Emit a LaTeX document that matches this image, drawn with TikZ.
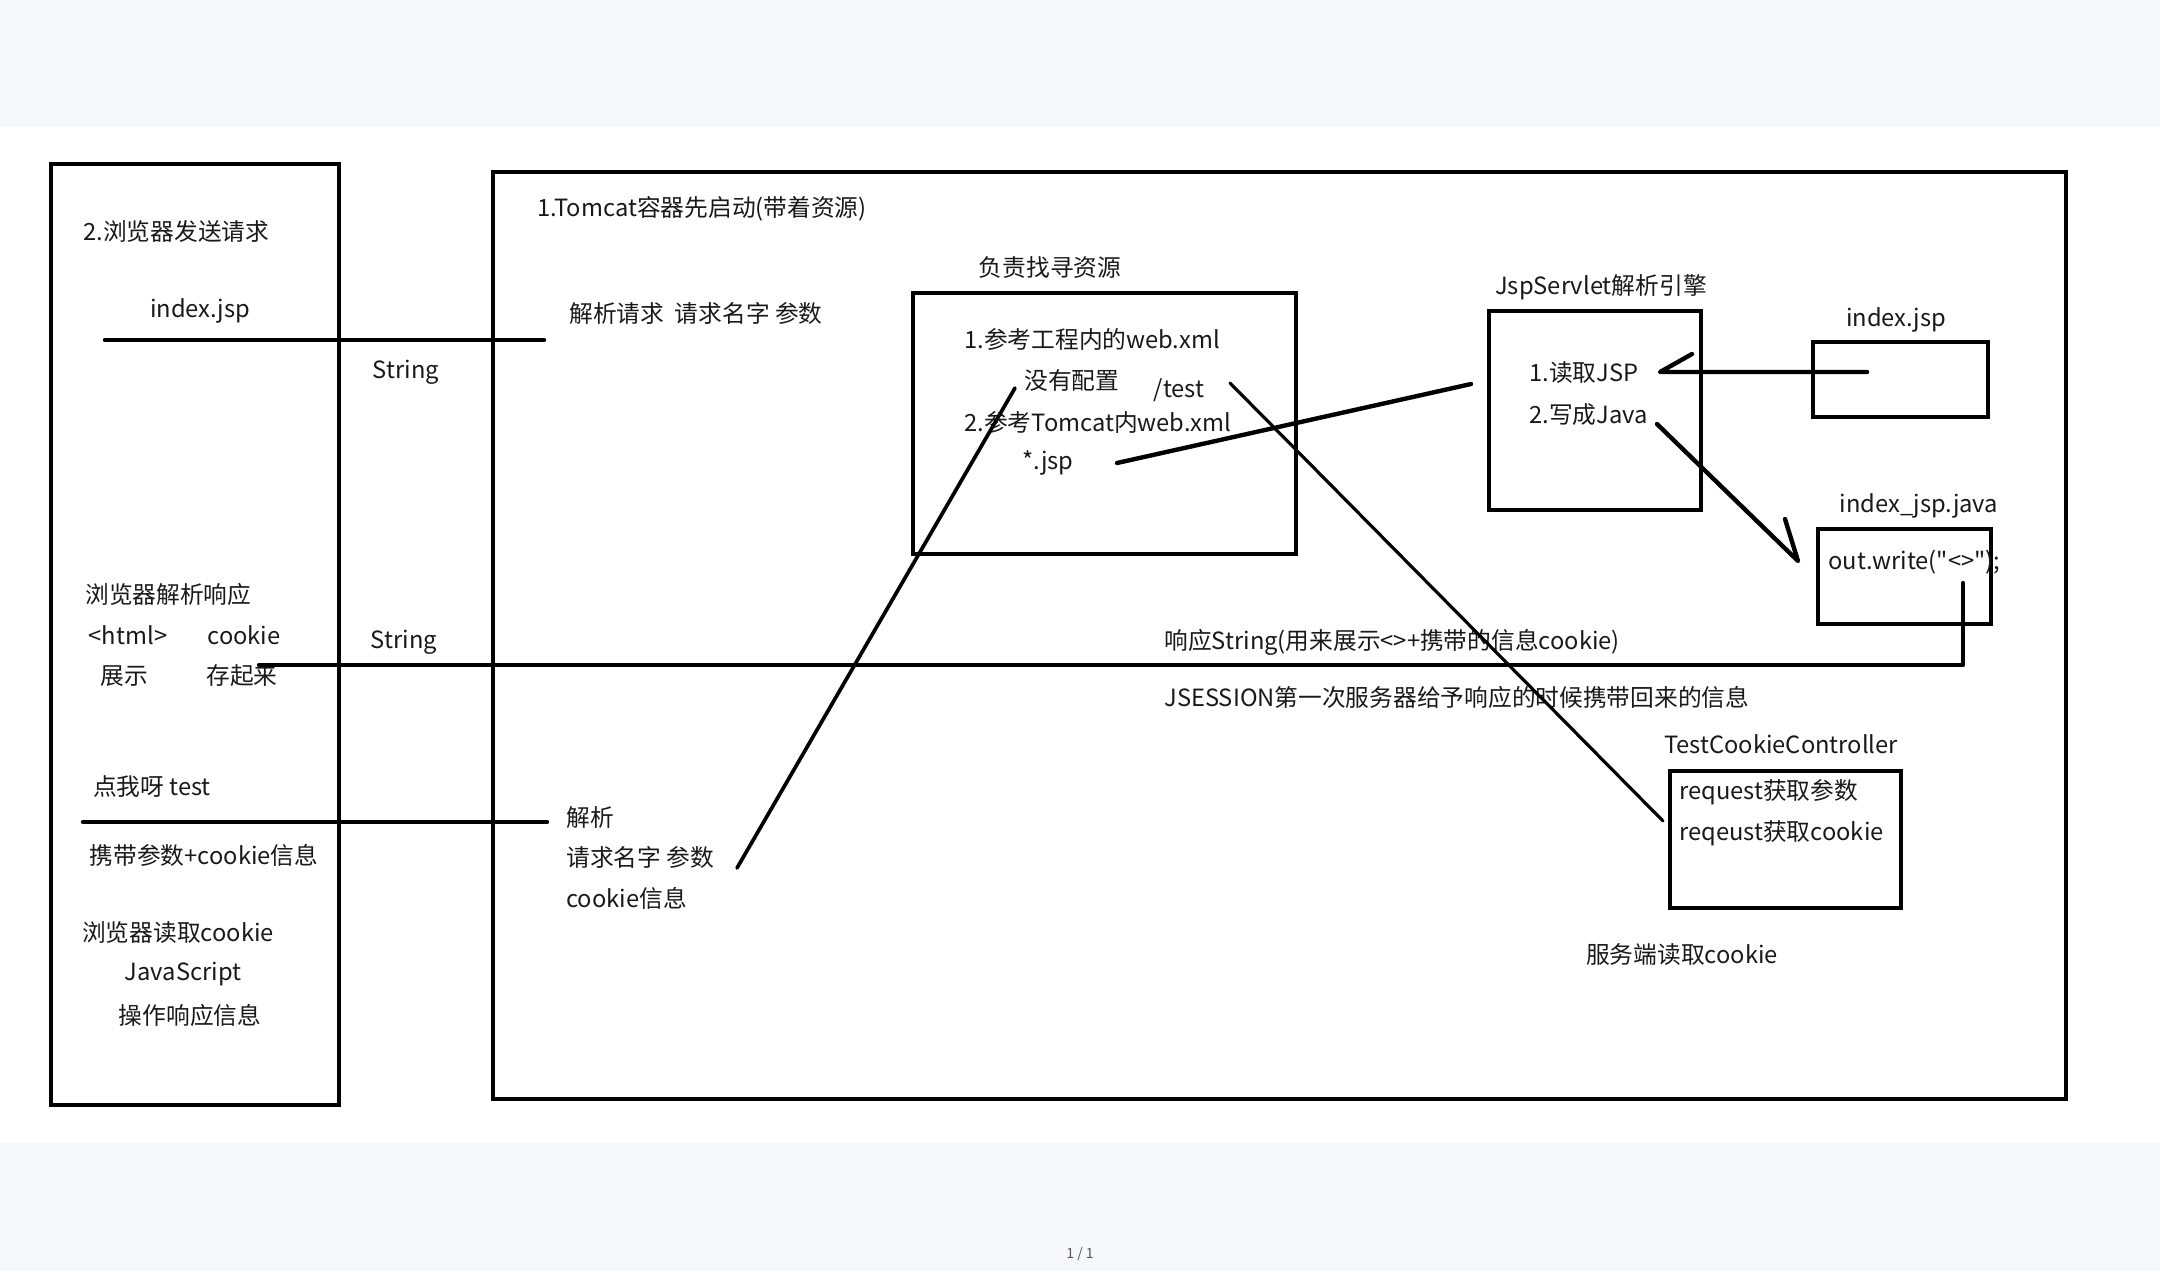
\documentclass[tikz,border=0pt]{standalone}
\usepackage{fontspec}
\setmainfont{Noto Sans CJK SC}[Ligatures=TeXOff]
\usepackage{tikz}
\definecolor{pagegray}{HTML}{F6F9FC}
\definecolor{pagenum}{HTML}{555555}
\newcommand{\lblfont}{\fontsize{13.5}{16}\selectfont}

\tikzset{
  box/.style={draw, line width=2.8pt, inner sep=0pt},
  wire/.style={line width=2.5pt, line cap=round, line join=round},
  thinwire/.style={line width=1.8pt, line cap=round},
  lbl/.style={inner sep=0pt, font=\lblfont, text=black!90},
}

\begin{document}
\begin{tikzpicture}[x=0.2mm,y=-0.2mm]
  \useasboundingbox (0,0) rectangle (2160,1271);
  \fill[pagegray] (0,0) rectangle (2160,127);
  \fill[pagegray] (0,1143) rectangle (2160,1271);

  % browser side
  \node[box, minimum width=57.6mm, minimum height=188.2mm] (browser) at (195,634.5) {};
  \node[lbl, anchor=west] (send) at (83,231) {2.浏览器发送请求};
  \node[lbl] (idxreq) at (200,311) {index.jsp};
  \node[lbl, anchor=west] (parse) at (85,594) {浏览器解析响应};
  \node[lbl] (html) at (128,635) {<html>};
  \node[lbl] (ck) at (244,635) {cookie};
  \node[lbl] (show) at (124,676) {展示};
  \node[lbl] (store) at (242,676) {存起来};
  \node[lbl] (click) at (152,787) {点我呀 test};
  \node[lbl] (carry) at (204,855) {携带参数+cookie信息};
  \node[lbl] (readck) at (178,933) {浏览器读取cookie};
  \node[lbl] (js) at (183,974) {JavaScript};
  \node[lbl] (oper) at (190,1015) {操作响应信息};
  \node[lbl] (str1) at (406,372) {String};
  \node[lbl] (str2) at (404,642) {String};

  % tomcat side
  \node[box, minimum width=314.6mm, minimum height=185.4mm] (tomcat) at (1279.5,635.5) {};
  \node[lbl, anchor=west] (start) at (537,209) {1.Tomcat容器先启动(带着资源)};
  \node[lbl, anchor=west] (reqname) at (569,313) {解析请求\ \ 请求名字 参数};
  \node[lbl, anchor=west] (jx) at (566,817) {解析};
  \node[lbl, anchor=west] (jxname) at (566,857) {请求名字 参数};
  \node[lbl, anchor=west] (jxck) at (566,898) {cookie信息};

  \node[lbl] (findres) at (1050,267) {负责找寻资源};
  \node[box, minimum width=76.6mm, minimum height=52.2mm] (res) at (1104.5,423.5) {};
  \node[lbl, anchor=west] (web1) at (964,339) {1.参考工程内的web.xml};
  \node[lbl, anchor=west] (nocfg) at (1024,380) {没有配置};
  \node[lbl] (test) at (1179,390) {/test};
  \node[lbl, anchor=west] (web2) at (964,422) {2.参考Tomcat内web.xml};
  \node[lbl] (star) at (1048,463) {*.jsp};

  \node[lbl] (engname) at (1601,287) {JspServlet解析引擎};
  \node[box, minimum width=42.4mm, minimum height=39.8mm] (engine) at (1595,410.5) {};
  \node[lbl, anchor=west] (readjsp) at (1529,373) {1.读取JSP};
  \node[lbl, anchor=west] (tojava) at (1529,415) {2.写成Java};

  \node[lbl] (jspname) at (1896,320) {index.jsp};
  \node[box, minimum width=35mm, minimum height=15mm] (jspfile) at (1900.5,379.5) {};
  \node[lbl] (javaname) at (1919,506) {index\_jsp.java};
  \node[box, minimum width=34.6mm, minimum height=19mm] (javafile) at (1904.5,576.5) {};
  \node[lbl, anchor=west] (write) at (1828,562) {out.write("<>");};

  \node[lbl, anchor=west] (resp) at (1164,642) {响应String(用来展示<>+携带的信息cookie)};
  \node[lbl, anchor=west] (jsess) at (1164,697) {JSESSION第一次服务器给予响应的时候携带回来的信息};

  \node[lbl] (ctlname) at (1781,744) {TestCookieController};
  \node[box, minimum width=46.2mm, minimum height=27.4mm] (ctl) at (1785.5,839.5) {};
  \node[lbl, anchor=west] (getpar) at (1679,792) {request获取参数};
  \node[lbl, anchor=west] (getck) at (1679,833) {reqeust获取cookie};
  \node[lbl] (srvck) at (1682,955) {服务端读取cookie};

  \node[font=\fontsize{8}{9}\selectfont, text=pagenum, inner sep=0pt] (pg) at (1080,1254) {1 / 1};

  % hand drawn strokes
  \coordinate (reqA) at (105,340);
  \coordinate (reqB) at (544,340);
  \coordinate (respA) at (259,665);
  \coordinate (respB) at (1963,665);
  \coordinate (respC) at (1963,583);
  \coordinate (sendA) at (83,822);
  \coordinate (sendB) at (547,822);
  \coordinate (parA) at (737,868);
  \coordinate (parB) at (1015,388);
  \coordinate (starA) at (1117,463);
  \coordinate (starB) at (1471,384);
  \coordinate (testA) at (1230,383);
  \coordinate (testB) at (1663,821);
  \coordinate (jspA) at (1867,372);
  \coordinate (jspB) at (1660,372);
  \coordinate (javaA) at (1657,424);
  \coordinate (javaB) at (1798,561);

  \draw[wire] (reqA) -- (reqB);
  \draw[wire] (respA) -- (respB) -- (respC);
  \draw[wire] (sendA) -- (sendB);
  \draw[thinwire, line width=2.1pt] (parA) -- (parB);
  \draw[wire] (starA) -- (starB);
  \draw[thinwire] (testA) -- (testB);
  \draw[wire] (jspA) -- (jspB) -- ++(32,-18);
  \draw[wire] (javaA) -- (javaB) -- ++(-13,-42);
\end{tikzpicture}
\end{document}
